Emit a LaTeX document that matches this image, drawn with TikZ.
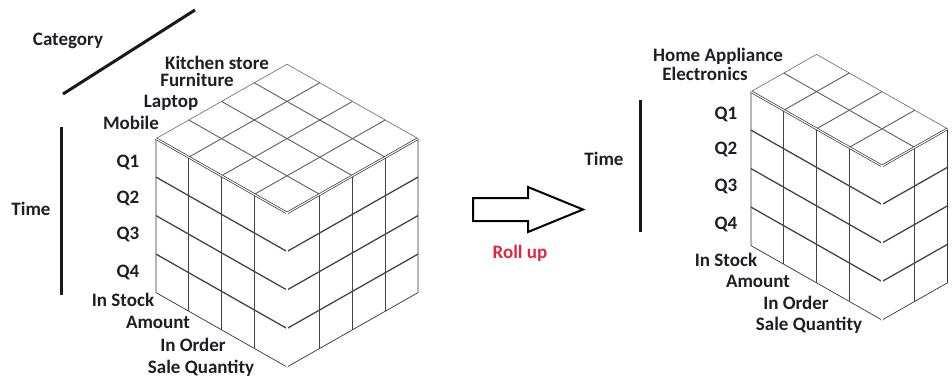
\documentclass[tikz,border=0pt]{standalone}
\usepackage{fontspec}
\setmainfont{Carlito}
\definecolor{ink}{HTML}{1E1E28}
\definecolor{rollred}{HTML}{E5243F}
\definecolor{gridc}{HTML}{444444}
\definecolor{topgrid}{HTML}{5E5E5E}

% cell steps of the isometric grid (pixel-like units, y grows downwards)
\def\ax{-32.75}\def\ay{-18.6}
\def\bx{32.75}\def\by{-18.6}
\def\hh{38.5}

% \gridbox{x}{y}{cells to the left}{cells to the right}{rows}
% (x,y) is the front top corner of the box
\newcommand{\gridbox}[5]{%
  \pgfmathtruncatemacro{\nl}{#3-1}%
  \pgfmathtruncatemacro{\nr}{#4-1}%
  \pgfmathtruncatemacro{\nv}{#5-1}%
  \foreach \i in {1,...,\nl} {
    \draw[facegrid] ({#1+\i*(\ax)},{#2+\i*(\ay)}) -- ++(0,{#5*\hh});
    \draw[topgridline] ({#1+\i*(\ax)},{#2+\i*(\ay)}) -- ++({#4*\bx},{#4*(\by)});
  }
  \foreach \i in {1,...,\nr} {
    \draw[facegrid] ({#1+\i*\bx},{#2+\i*(\by)}) -- ++(0,{#5*\hh});
    \draw[topgridline] ({#1+\i*\bx},{#2+\i*(\by)}) -- ++({#3*(\ax)},{#3*(\ay)});
  }
  \foreach \j in {1,...,\nv} {
    \draw[facegrid] (#1,{#2+\j*\hh}) -- ++({#3*(\ax)},{#3*(\ay)});
    \draw[facegrid] (#1,{#2+\j*\hh}) -- ++({#4*\bx},{#4*(\by)});
  }
  % top face back rim
  \draw[toprim] ({#1+#3*(\ax)},{#2+#3*(\ay)}) -- ++({#4*\bx},{#4*(\by)})
     -- ++({#3*(-(\ax))},{#3*(-(\ay))});
  % silhouette
  \draw[rim] ({#1+#3*(\ax)},{#2+#3*(\ay)}) -- ++(0,{#5*\hh})
     -- (#1,{#2+#5*\hh}) -- ++({#4*\bx},{#4*(\by)}) -- ++(0,{-#5*\hh});
  % front edges, drawn doubled
  \draw[rim, double=white, double distance=1.1pt]
     ({#1+#3*(\ax)},{#2+#3*(\ay)}) -- (#1,#2) -- ({#1+#4*\bx},{#2+#4*(\by)});
  \draw[rim, double=white, double distance=1.1pt] (#1,#2) -- ++(0,{#5*\hh});
}

\begin{document}
\begin{tikzpicture}[x=1pt,y=-1pt,
  lbl/.style={font=\bfseries\fontsize{19}{21}\selectfont, text=ink,
    inner sep=0pt, text height=12pt, text depth=0pt, anchor=center},
  facegrid/.style={draw=gridc, line width=1.3pt},
  topgridline/.style={draw=topgrid, line width=0.9pt},
  toprim/.style={draw=black!60, line width=0.6pt},
  rim/.style={draw=black!80, line width=0.7pt},
  axisbar/.style={draw=black!90, line width=3pt},
  arrowshape/.style={draw=black, line width=2pt, fill=white, line join=miter}]
\useasboundingbox (0,0) rectangle (952,378);

% ---------- detailed cube ----------
\gridbox{287}{213}{4}{4}{4}

\draw[axisbar] (63,94) coordinate (catA) -- (195,10) coordinate (catB);
\node[lbl] (category) at (68,39) {Category};
\draw[axisbar] (61,127) coordinate (timeA) -- (61,295) coordinate (timeB);
\node[lbl] (time) at (31,209) {Time};

\node[lbl] (kitchen) at (217,63.5) {Kitchen store};
\node[lbl] (furniture) at (197,80) {Furniture};
\node[lbl] (laptop) at (171,101) {Laptop};
\node[lbl] (mobile) at (131,123) {Mobile};
\node[lbl] (q1) at (128,161) {Q1};
\node[lbl] (q2) at (128,197) {Q2};
\node[lbl] (q3) at (128,233) {Q3};
\node[lbl] (q4) at (128,271) {Q4};
\node[lbl] (instock) at (123,300) {In Stock};
\node[lbl] (amount) at (158,322) {Amount};
\node[lbl] (inorder) at (193,345) {In Order};
\node[lbl] (salequantity) at (201,367) {Sale Quantity};

% ---------- roll-up arrow ----------
\draw[arrowshape] (473,198) -- (528,198) -- (528,187) -- (583,209.5)
   -- (528,232) -- (528,221) -- (473,221) -- cycle;
\node[lbl, text=rollred] (rollup) at (520,252) {Roll up};

% ---------- rolled-up cube ----------
\gridbox{882}{166}{4}{2}{4}

\draw[axisbar] (640,100) coordinate (timeC) -- (640,232) coordinate (timeD);
\node[lbl] (time2) at (604,159) {Time};
\node[lbl] (homeapp) at (718,55) {Home Appliance};
\node[lbl] (electronics) at (705,74) {Electronics};
\node[lbl] (rq1) at (726,113) {Q1};
\node[lbl] (rq2) at (726,148) {Q2};
\node[lbl] (rq3) at (726,185) {Q3};
\node[lbl] (rq4) at (726,223) {Q4};
\node[lbl] (rinstock) at (726,260) {In Stock};
\node[lbl] (ramount) at (758,281) {Amount};
\node[lbl] (rinorder) at (796,303) {In Order};
\node[lbl] (rsalequantity) at (809,324) {Sale Quantity};
\end{tikzpicture}
\end{document}
